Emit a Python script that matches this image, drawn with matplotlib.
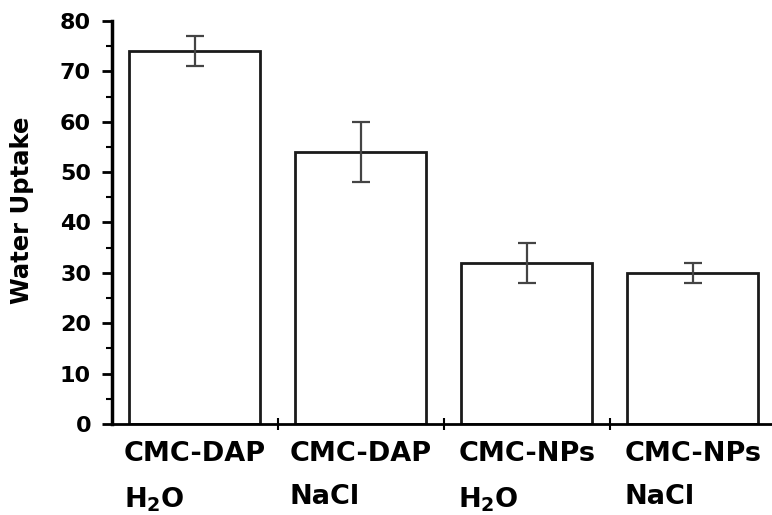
import matplotlib
matplotlib.use('Agg')
import matplotlib.pyplot as plt
from matplotlib.ticker import MultipleLocator

categories = ['CMC-DAP\nH$_2$O', 'CMC-DAP\nNaCl', 'CMC-NPs\nH$_2$O', 'CMC-NPs\nNaCl']
uptake = [74, 54, 32, 30]
err_low = [3, 6, 4, 2]
err_high = [3, 6, 4, 2]

plt.rcParams['font.family'] = ['DejaVu Sans']
plt.rcParams['font.weight'] = 'bold'
plt.rcParams['mathtext.fontset'] = 'dejavusans'
plt.rcParams['mathtext.default'] = 'bf'

fig = plt.figure(figsize=(7.72, 5.15), dpi=100)
ax = fig.add_axes([0.145, 0.177, 0.860, 0.782])

x = list(range(len(categories)))
ax.bar(x, uptake, width=0.79, color='white', edgecolor='#1a1a1a', linewidth=2)
ax.errorbar(x, uptake, yerr=[err_low, err_high], fmt='none', ecolor='#444444',
            elinewidth=1.6, capsize=6.5, capthick=1.6)

ax.set_xlim(-0.5, 3.5)
ax.set_ylim(0, 80)
ax.yaxis.set_major_locator(MultipleLocator(10))
ax.yaxis.set_minor_locator(MultipleLocator(5))
ax.tick_params(axis='y', which='major', direction='out', length=7, width=2, labelsize=16, pad=8)
ax.tick_params(axis='y', which='minor', direction='out', length=4, width=1.5)

# category boundary ticks on the x axis
ax.set_xticks([0.5, 1.5, 2.5], minor=True)
ax.tick_params(axis='x', which='minor', direction='inout', length=8, width=1.5)
ax.set_xticks(x)
ax.set_xticklabels(categories, fontsize=19.5, fontweight='bold', multialignment='left',
                   linespacing=1.85)
ax.tick_params(axis='x', which='major', length=0, pad=12)

for s in ['top', 'right']:
    ax.spines[s].set_visible(False)
ax.spines['left'].set_linewidth(2.5)
ax.spines['bottom'].set_linewidth(2)

ax.set_ylabel('Water Uptake', fontsize=17.5, fontweight='bold')
ax.yaxis.set_label_coords(-0.118, 0.53)

fig.savefig('out.png', dpi=100)
